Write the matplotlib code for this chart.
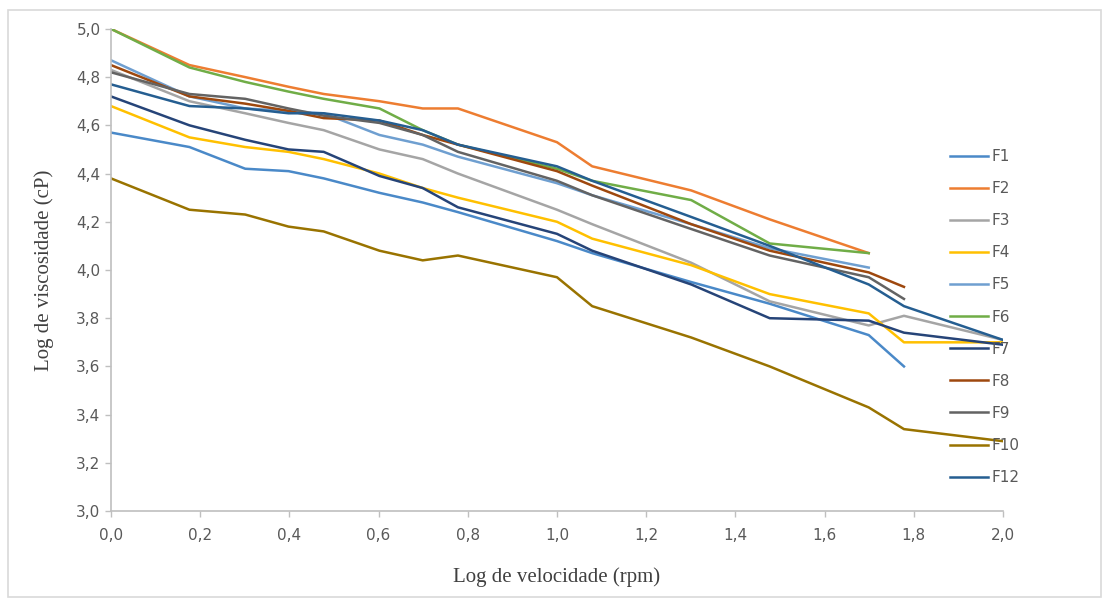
import matplotlib.pyplot as plt
from matplotlib.ticker import FuncFormatter
from matplotlib.patches import Rectangle

# log of spindle speed (rpm): 1, 1.5, 2, 2.5, 3, 4, 5, 6, 10, 12, 20, 30, 50, 60, 100
log_rpm = [0.0, 0.176, 0.301, 0.398, 0.477, 0.602, 0.699, 0.778,
           1.0, 1.079, 1.301, 1.477, 1.699, 1.778, 2.0]

f1 = [4.57, 4.51, 4.42, 4.41, 4.38, 4.32, 4.28, 4.24, 4.12, 4.07, 3.95, 3.86, 3.73, 3.60]
f2 = [5.00, 4.85, 4.80, 4.76, 4.73, 4.70, 4.67, 4.67, 4.53, 4.43, 4.33, 4.21, 4.07]
f3 = [4.83, 4.70, 4.65, 4.61, 4.58, 4.50, 4.46, 4.40, 4.25, 4.19, 4.03, 3.87, 3.77, 3.81, 3.71]
f4 = [4.68, 4.55, 4.51, 4.49, 4.46, 4.40, 4.34, 4.30, 4.20, 4.13, 4.02, 3.90, 3.82, 3.70, 3.70]
f5 = [4.87, 4.72, 4.67, 4.66, 4.65, 4.56, 4.52, 4.47, 4.36, 4.31, 4.19, 4.09, 4.01]
f6 = [5.00, 4.84, 4.78, 4.74, 4.71, 4.67, 4.58, 4.52, 4.42, 4.37, 4.29, 4.11, 4.07]
f7 = [4.72, 4.60, 4.54, 4.50, 4.49, 4.39, 4.34, 4.26, 4.15, 4.08, 3.94, 3.80, 3.79, 3.74, 3.69]
f8 = [4.85, 4.72, 4.69, 4.66, 4.63, 4.62, 4.56, 4.52, 4.41, 4.35, 4.19, 4.08, 3.99, 3.93]
f9 = [4.82, 4.73, 4.71, 4.67, 4.64, 4.61, 4.56, 4.49, 4.37, 4.31, 4.17, 4.06, 3.97, 3.88]
f10 = [4.38, 4.25, 4.23, 4.18, 4.16, 4.08, 4.04, 4.06, 3.97, 3.85, 3.72, 3.60, 3.43, 3.34, 3.29]
f12 = [4.77, 4.68, 4.67, 4.65, 4.65, 4.62, 4.58, 4.52, 4.43, 4.37, 4.22, 4.10, 3.94, 3.85, 3.71]

labels = ["F1", "F2", "F3", "F4", "F5", "F6", "F7", "F8", "F9", "F10", "F12"]
series = [f1, f2, f3, f4, f5, f6, f7, f8, f9, f10, f12]
colors = ["#4a89c8", "#ed7d31", "#a5a5a5", "#ffc000", "#6f9fd0", "#70ad47",
          "#264478", "#9e480e", "#636363", "#997300", "#255e91"]

fig = plt.figure(figsize=(11.04, 6.02), dpi=100)
ax = fig.add_axes([0.1005, 0.151, 0.808, 0.801])

# light frame around the whole chart, as in the spreadsheet export
fig.patches.append(Rectangle((0.007, 0.008), 0.99, 0.976, transform=fig.transFigure,
                             fill=False, edgecolor="#d9d9d9", linewidth=1.2))

for vals, lab, c in zip(series, labels, colors):
    ax.plot(log_rpm[:len(vals)], vals, color=c, linewidth=1.8, label=lab)

ax.set_xlim(0, 2.0)
ax.set_ylim(3.0, 5.0)
ax.set_xticks([i / 5 for i in range(11)])
ax.set_yticks([3 + i / 5 for i in range(11)])
comma = FuncFormatter(lambda v, p: f"{v:.1f}".replace(".", ","))
ax.xaxis.set_major_formatter(comma)
ax.yaxis.set_major_formatter(comma)
ax.tick_params(axis="both", colors="#bfbfbf", labelcolor="#595959",
               labelsize=11, length=4, width=1, direction="out")
ax.tick_params(axis="x", pad=8)

for side in ["top", "right"]:
    ax.spines[side].set_visible(False)
for side in ["left", "bottom"]:
    ax.spines[side].set_color("#bfbfbf")
    ax.spines[side].set_linewidth(1.2)

ax.set_xlabel("Log de velocidade (rpm)", family="Liberation Serif", fontsize=15,
              color="#404040", labelpad=18)
ax.set_ylabel("Log de viscosidade (cP)", family="Liberation Serif", fontsize=15,
              color="#404040", labelpad=16)

leg = ax.legend(loc="center left", bbox_to_anchor=(0.9406, 0.4025), frameon=False,
                fontsize=11, handlelength=2.5, handletextpad=0.2,
                labelspacing=1.12, borderpad=0, borderaxespad=0)
for t in leg.get_texts():
    t.set_color("#595959")

fig.savefig("out.png", dpi=100)
